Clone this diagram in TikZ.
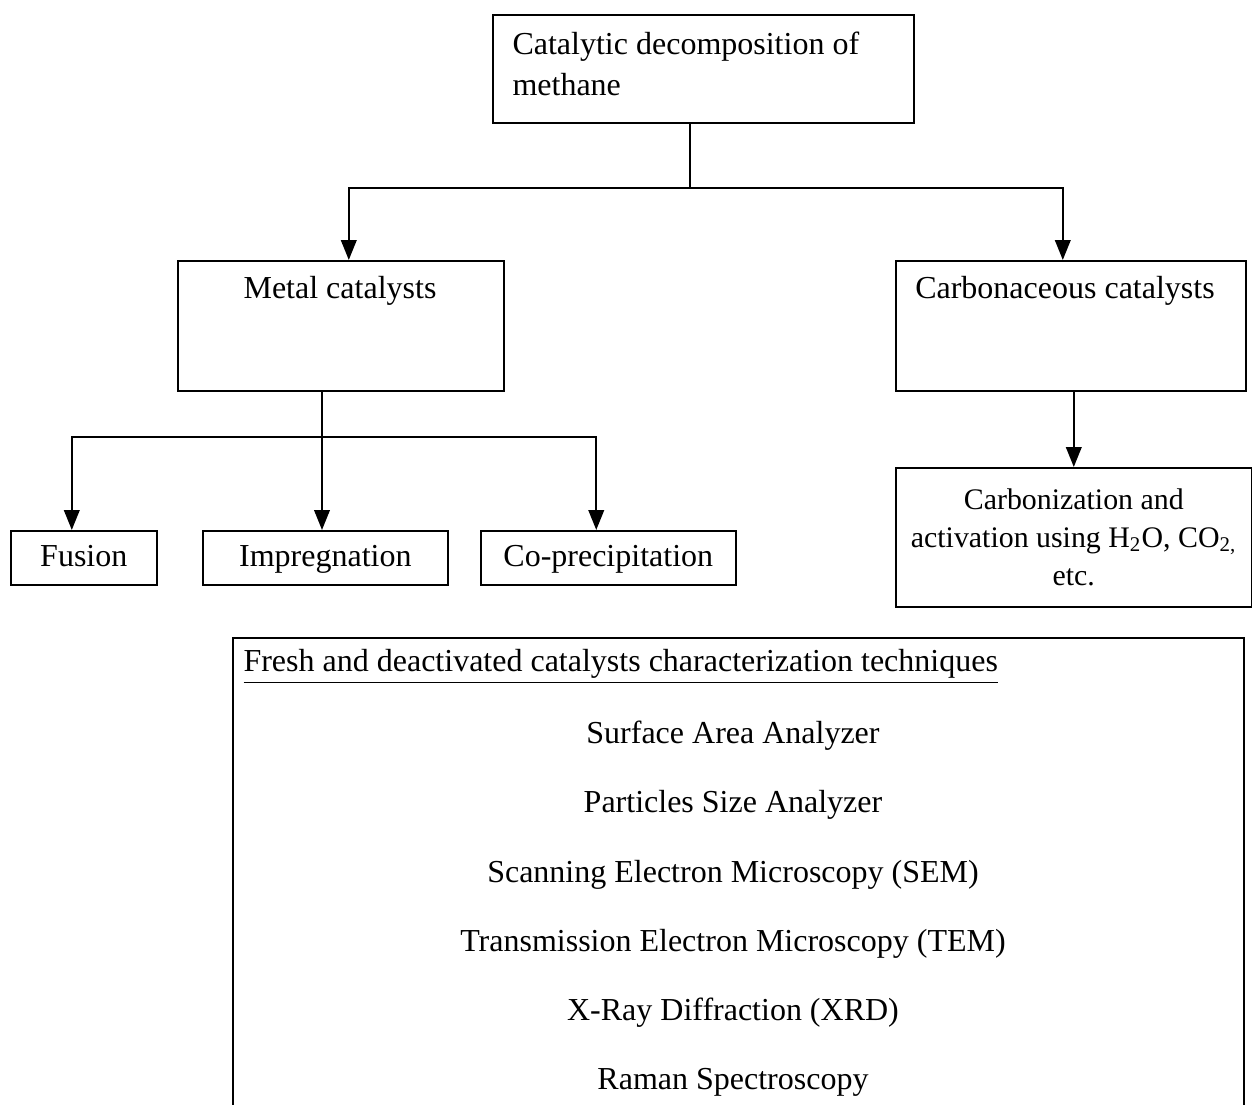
\documentclass[tikz,border=0pt]{standalone}
\usepackage{fontspec}
\setmainfont{Liberation Serif}
\usetikzlibrary{arrows.meta}
\usetikzlibrary{calc}

\begin{document}
\begin{tikzpicture}[x=0.375pt,y=-0.375pt,
        box/.style={draw,line width=0.6pt,inner sep=0pt,anchor=north west},
        method/.style={box,minimum height=20.25pt,text height=8.6pt,text depth=1.8pt},
        txt/.style={inner sep=0pt},
        arr/.style={line width=0.9pt,-{Triangle[length=7.5pt,width=5.8pt]}},
        font=\fontsize{12}{14.4}\selectfont]
        \useasboundingbox (0,0) rectangle (1252,1105);

        % Top box
        \node[box,minimum width=157.9pt,minimum height=40.5pt] (top) at (492,14) {};
        \node[txt,anchor=west,align=left,font=\fontsize{12}{15.4}\selectfont] (toptxt) at (512,64) {Catalytic decomposition of\\methane};

        % Catalyst types
        \node[box,minimum width=122.25pt,minimum height=48.75pt] (metal) at (177,260) {};
        \node[txt] (metaltxt) at (340,291) {Metal catalysts};
        \node[box,minimum width=131.25pt,minimum height=48.75pt] (carb) at (895,260) {};
        \node[txt] (carbtxt) at (1065,291) {Carbonaceous catalysts};

        % Preparation methods
        \node[method,minimum width=54.75pt] (fusion) at (10,530) {Fusion};
        \node[method,minimum width=91.9pt] (impreg) at (202,530) {Impregnation};
        \node[method,minimum width=95.6pt] (coprec) at (480,530) {Co-precipitation};
        \node[box,minimum width=133.5pt,minimum height=52.1pt,align=center,
            font=\fontsize{11.2}{14.4}\selectfont] (carbact) at (895,467) {Carbonization and\\activation using H\textsubscript{2}O, CO\textsubscript{2,}\\etc.};

        % Characterization techniques (box runs past the page bottom)
        \node[box,minimum width=379.1pt,minimum height=181pt] (tech) at (232,637) {};
        \node[txt,anchor=west] (techtitle) at (243,667) {\underline{Fresh and deactivated catalysts characterization techniques}};
        \foreach \name/\lbl [count=\i] in {sa/Surface Area Analyzer,
                ps/Particles Size Analyzer,
                sem/Scanning Electron Microscopy (SEM),
                tem/Transmission Electron Microscopy (TEM),
                xrd/X-Ray Diffraction (XRD),
                raman/Raman Spectroscopy}
            \node[txt] (\name) at (733,{736+69.2*(\i-1)}) {\lbl};

        % Connectors
        \coordinate (split) at (690,188);
        \draw[line width=0.6pt] (split |- top.south) -- (split);
        \draw[arr] (split) -| ([xshift=3pt]metal.north);
        \draw[arr] (split) -| ([xshift=-3pt]carb.north);

        \coordinate (msplit) at (322,437);
        \draw[arr] (msplit |- metal.south) -- (msplit |- impreg.north);
        \draw[arr] (msplit) -| ([xshift=-4.5pt]fusion.north);
        \draw[arr] (msplit) -| ([xshift=-4.5pt]coprec.north);

        \draw[arr] (carbact.north |- carb.south) -- (carbact.north);
    \end{tikzpicture}
\end{document}
